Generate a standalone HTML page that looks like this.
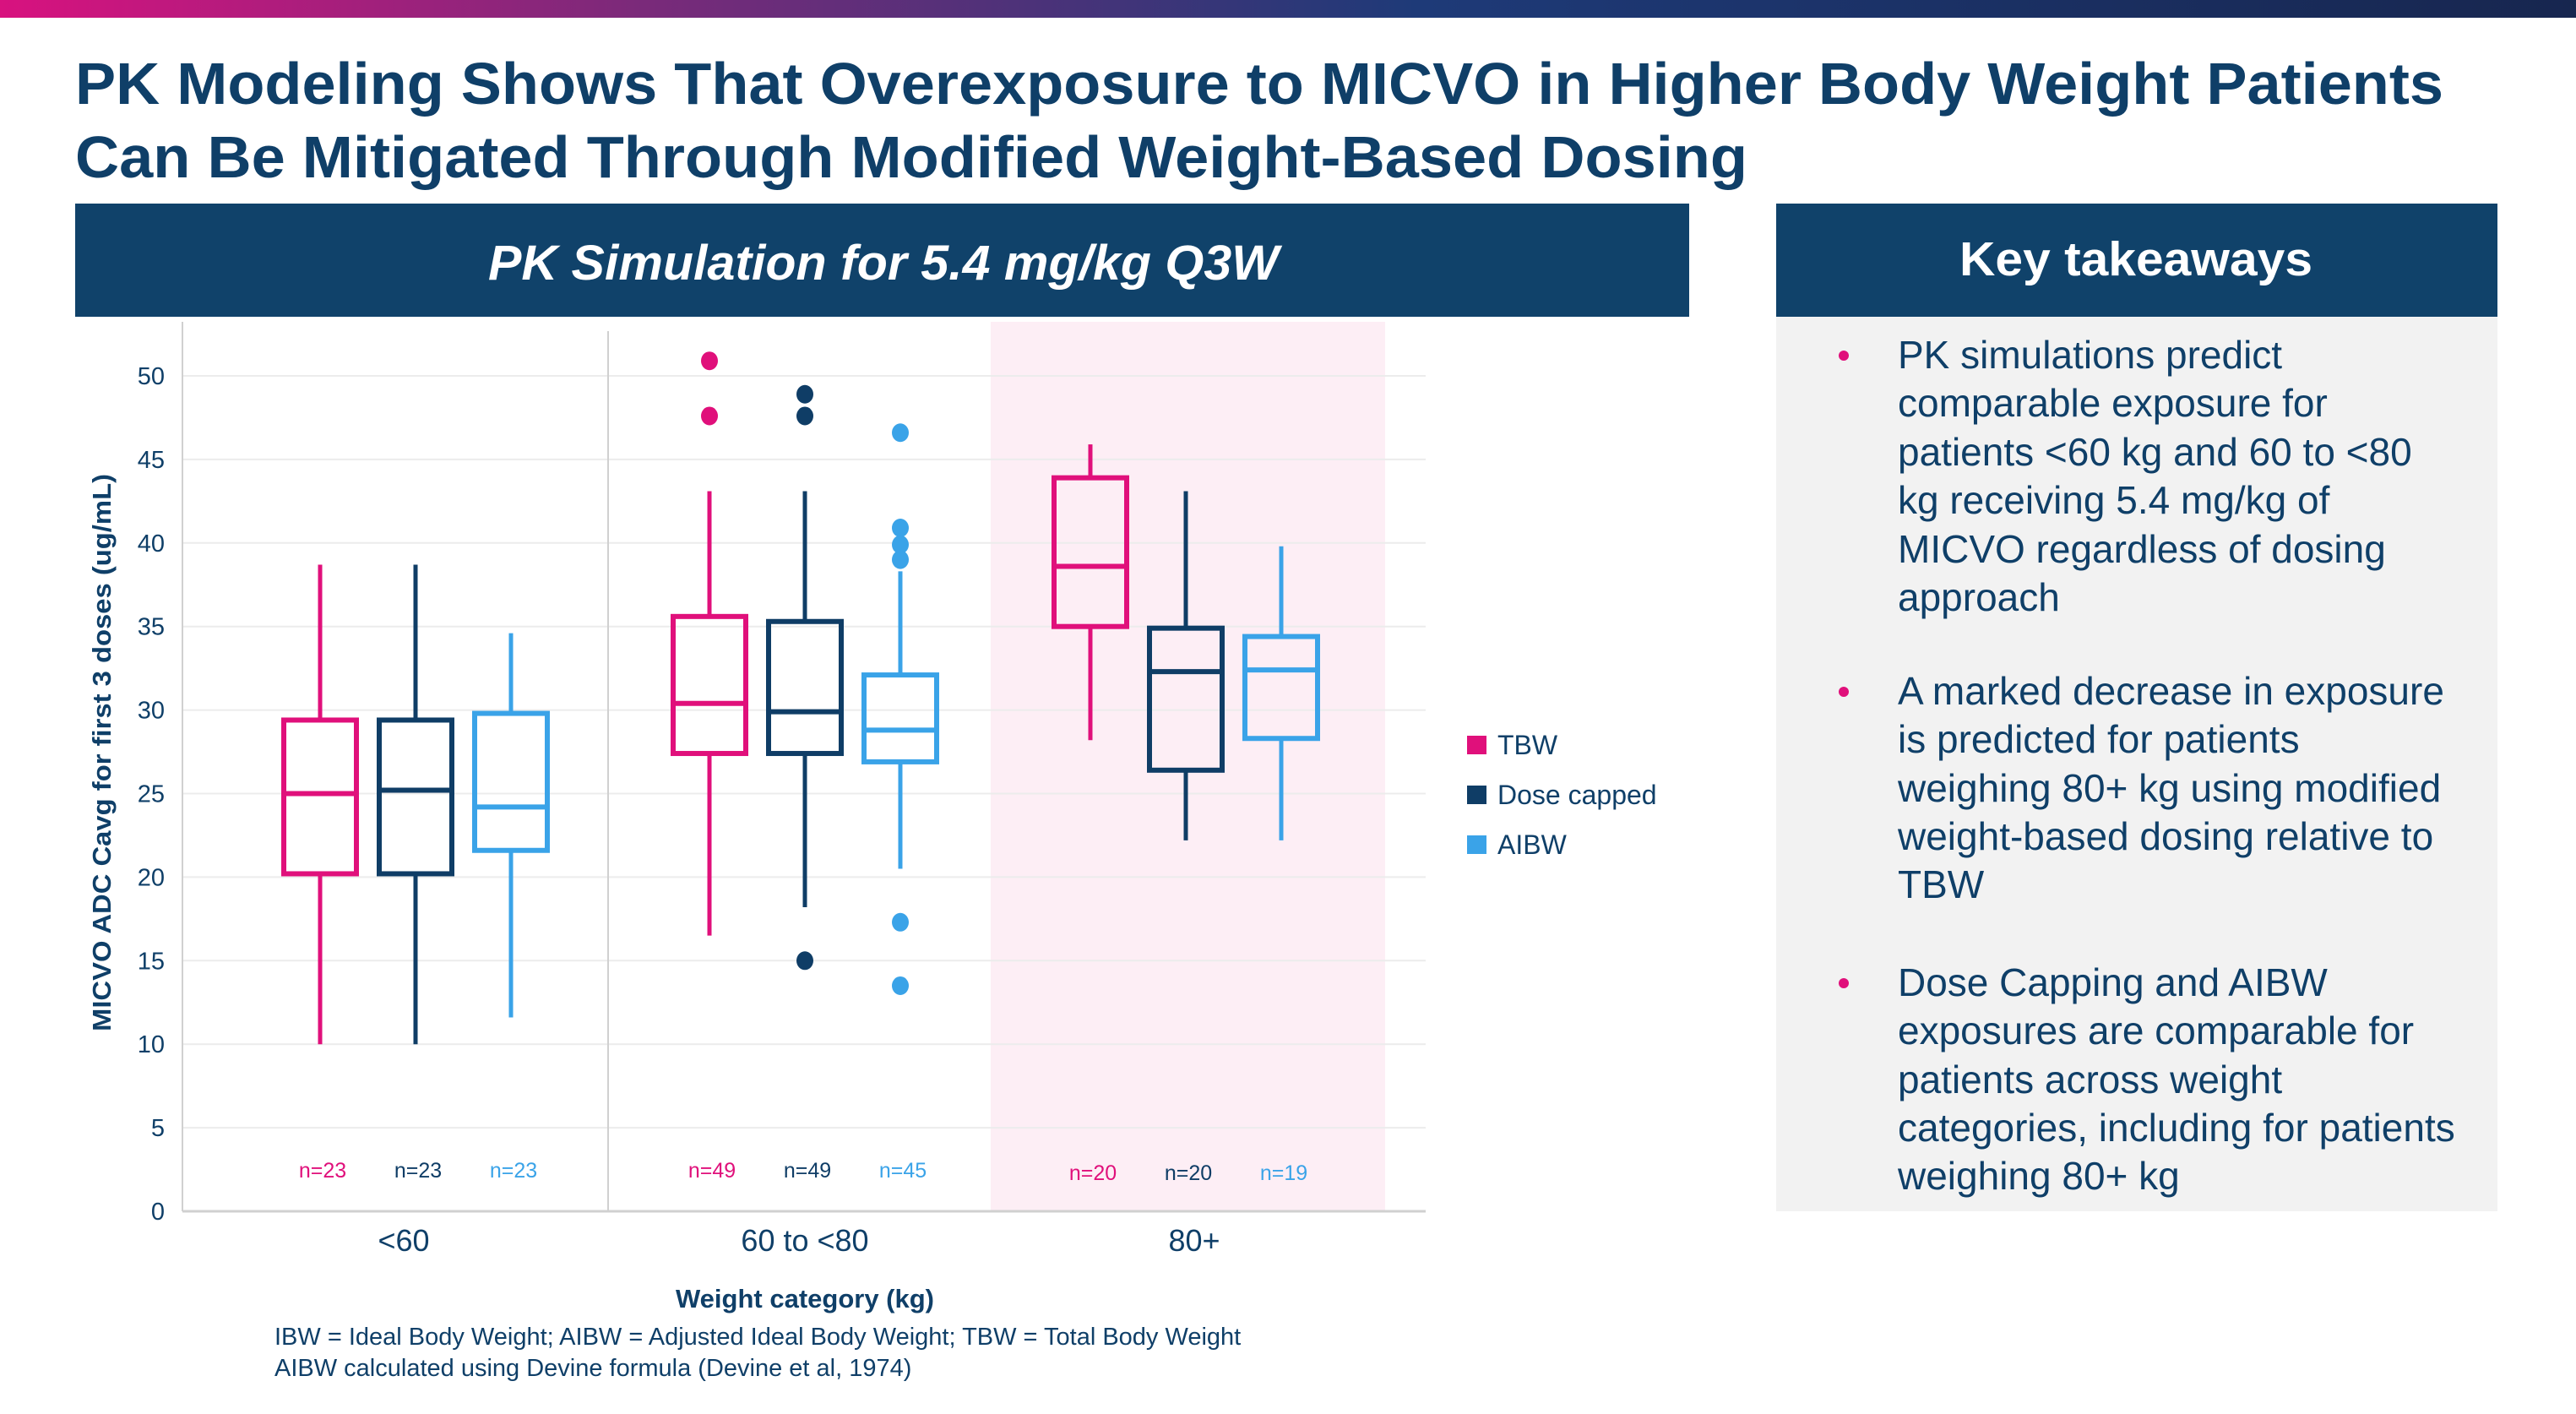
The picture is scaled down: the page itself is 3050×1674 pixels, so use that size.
<!DOCTYPE html>
<html><head><meta charset="utf-8"><style>
html,body{margin:0;padding:0;background:#fff;}
svg{display:block;font-family:"Liberation Sans",Arial,sans-serif;}
</style></head><body>
<svg id="page" width="3050" height="1674" viewBox="0 0 3050 1674" xmlns="http://www.w3.org/2000/svg">
<defs>
<linearGradient id="band" x1="0" x2="1" y1="0" y2="0">
<stop offset="0" stop-color="#d8127f"/><stop offset="0.25" stop-color="#7a2a7a"/><stop offset="0.55" stop-color="#1e3a78"/><stop offset="1" stop-color="#17264f"/>
</linearGradient>
</defs>
<rect x="0" y="0" width="3050" height="21" fill="url(#band)"/>
<g fill="#0f3f68" font-weight="bold" font-size="70">
<text x="89" y="123" textLength="2804" lengthAdjust="spacingAndGlyphs">PK Modeling Shows That Overexposure to MICVO in Higher Body Weight Patients</text>
<text x="89" y="210" textLength="1980" lengthAdjust="spacingAndGlyphs">Can Be Mitigated Through Modified Weight-Based Dosing</text>
</g>
<rect x="89" y="241" width="1911" height="134" fill="#10426a"/>
<text x="1046" y="331" text-anchor="middle" fill="#fff" font-size="58" font-weight="bold" font-style="italic" textLength="936" lengthAdjust="spacingAndGlyphs">PK Simulation for 5.4 mg/kg Q3W</text>
<rect x="2103" y="241" width="854" height="134" fill="#10426a"/>
<text x="2529" y="326" text-anchor="middle" fill="#fff" font-size="57" font-weight="bold" textLength="418" lengthAdjust="spacingAndGlyphs">Key takeaways</text>
<rect x="2103" y="375" width="854" height="1059" fill="#f2f2f2"/>
<g fill="#0f3f68" font-size="46">
<g fill="#e0107b"><circle cx="2183" cy="421" r="6"/><circle cx="2183" cy="819" r="6"/><circle cx="2183" cy="1164" r="6"/></g>
<text x="2247" y="436">PK simulations predict</text>
<text x="2247" y="493">comparable exposure for</text>
<text x="2247" y="551">patients &lt;60 kg and 60 to &lt;80</text>
<text x="2247" y="608">kg receiving 5.4 mg/kg of</text>
<text x="2247" y="666">MICVO regardless of dosing</text>
<text x="2247" y="723">approach</text>
<text x="2247" y="834">A marked decrease in exposure</text>
<text x="2247" y="891">is predicted for patients</text>
<text x="2247" y="949">weighing 80+ kg using modified</text>
<text x="2247" y="1006">weight-based dosing relative to</text>
<text x="2247" y="1063">TBW</text>
<text x="2247" y="1179">Dose Capping and AIBW</text>
<text x="2247" y="1236">exposures are comparable for</text>
<text x="2247" y="1294">patients across weight</text>
<text x="2247" y="1351">categories, including for patients</text>
<text x="2247" y="1408">weighing 80+ kg</text>
</g>
<g id="chart"></g>
<g font-size="32" fill="#0f3f68">
<g><rect x="1737" y="871" width="23" height="22" fill="#e0107b"/><text x="1773" y="893">TBW</text></g>
<g><rect x="1737" y="930" width="23" height="22" fill="#0f3d66"/><text x="1773" y="952">Dose capped</text></g>
<g><rect x="1737" y="989" width="23" height="22" fill="#3aa3e8"/><text x="1773" y="1011">AIBW</text></g>
</g>
<g fill="#0f3f68" font-size="29">
<text x="325" y="1592">IBW = Ideal Body Weight; AIBW = Adjusted Ideal Body Weight; TBW = Total Body Weight</text>
<text x="325" y="1629">AIBW calculated using Devine formula (Devine et al, 1974)</text>
</g>
</svg>
<script>
const categories = ["<60", "60 to <80", "80+"];
const seriesNames = ["TBW", "Dose capped", "AIBW"];
const seriesColors = ["#e0107b", "#0f3d66", "#3aa3e8"];
// [whiskerLow, q1, median, q3, whiskerHigh] per category per series
const tbwStats = [[10, 20.2, 25.0, 29.4, 38.7], [16.5, 27.4, 30.4, 35.6, 43.1], [28.2, 35.0, 38.6, 43.9, 45.9]];
const doseStats = [[10, 20.2, 25.2, 29.4, 38.7], [18.2, 27.4, 29.9, 35.3, 43.1], [22.2, 26.4, 32.3, 34.9, 43.1]];
const aibwStats = [[11.6, 21.6, 24.2, 29.8, 34.6], [20.5, 26.9, 28.8, 32.1, 38.3], [22.2, 28.3, 32.4, 34.4, 39.8]];
const tbwOutliers = [[], [50.9, 47.6], []];
const doseOutliers = [[], [48.9, 47.6, 15.0], []];
const aibwOutliers = [[], [46.6, 40.9, 39.9, 39.0, 17.3, 13.5], []];
const nLabels = [["n=23", "n=23", "n=23"], ["n=49", "n=49", "n=45"], ["n=20", "n=20", "n=19"]];
const yTicks = [0, 5, 10, 15, 20, 25, 30, 35, 40, 45, 50];

const NS = "http://www.w3.org/2000/svg";
const chart = document.getElementById("chart");
const X0 = 216, X1 = 1688, Y0 = 1434, Y50 = 445;
const yScale = v => Y0 - (v / 50) * (Y0 - Y50);
const catCenter = [492, 953, 1404];
const labelCenter = [478, 953, 1414];
const catEdges = [216, 720, 1173, 1640];
const offset = 113, boxW = 86;
const xPos = (c, s) => catCenter[c] + (s - 1) * offset;
function mk(tag, attrs, parent) {
  const e = document.createElementNS(NS, tag);
  for (const k in attrs) e.setAttribute(k, attrs[k]);
  (parent || chart).appendChild(e);
  return e;
}
const shade = mk("rect", {x: catEdges[2], y: 381, width: catEdges[3] - catEdges[2], height: Y0 - 381, fill: "#fdeef5"});


yTicks.forEach(t => {
  const g = mk("line", {x1: X0, x2: X1, y1: yScale(t), y2: yScale(t), stroke: "#ececec", "stroke-width": 2});
  
  
  const tx = mk("text", {x: 195, y: yScale(t) + 10, "text-anchor": "end", "font-size": 29, fill: "#0f3f68"});
  tx.textContent = t;
  
  
});
const ax = mk("line", {x1: X0, x2: X0, y1: 381, y2: Y0, stroke: "#d0d0d0", "stroke-width": 2});


const dv = mk("line", {x1: catEdges[1], x2: catEdges[1], y1: 392, y2: Y0, stroke: "#d0d0d0", "stroke-width": 2});


const xa = mk("line", {x1: X0, x2: X1, y1: Y0, y2: Y0, stroke: "#d0d0d0", "stroke-width": 3});


const allStats = [tbwStats, doseStats, aibwStats];
const allOut = [tbwOutliers, doseOutliers, aibwOutliers];
categories.forEach((cat, c) => {
  const lab = mk("text", {x: labelCenter[c], y: 1481, "text-anchor": "middle", "font-size": 36, fill: "#0f3f68"});
  lab.textContent = cat;
  
  
  seriesNames.forEach((sn, s) => {
    const st = allStats[s][c], col = seriesColors[s], x = xPos(c, s);
    const g = mk("g", {});
    
    
    mk("line", {x1: x, x2: x, y1: yScale(st[0]), y2: yScale(st[1]), stroke: col, "stroke-width": 5}, g);
    mk("line", {x1: x, x2: x, y1: yScale(st[3]), y2: yScale(st[4]), stroke: col, "stroke-width": 5}, g);
    mk("rect", {x: x - boxW / 2, y: yScale(st[3]), width: boxW, height: yScale(st[1]) - yScale(st[3]), fill: "none", stroke: col, "stroke-width": 6}, g);
    mk("line", {x1: x - boxW / 2, x2: x + boxW / 2, y1: yScale(st[2]), y2: yScale(st[2]), stroke: col, "stroke-width": 6}, g);
    allOut[s][c].forEach(v => {
      const p = mk("ellipse", {cx: x, cy: yScale(v), rx: 10, ry: 11, fill: col}, g);
      
      
    });
    const n = mk("text", {x: x + 3, y: c === 2 ? 1397 : 1394, "text-anchor": "middle", "font-size": 25, fill: col});
    n.textContent = nLabels[c][s];
    
    
  });
});
const xt = mk("text", {x: 953, y: 1548, "text-anchor": "middle", "font-size": 31, "font-weight": "bold", fill: "#0f3f68"});
xt.textContent = "Weight category (kg)";


const yt = mk("text", {x: 0, y: 0, transform: "translate(131,891) rotate(-90)", "text-anchor": "middle", "font-size": 31, "font-weight": "bold", fill: "#0f3f68", textLength: 660, lengthAdjust: "spacingAndGlyphs"});
yt.textContent = "MICVO ADC Cavg for first 3 doses (ug/mL)";


</script>
</body></html>
